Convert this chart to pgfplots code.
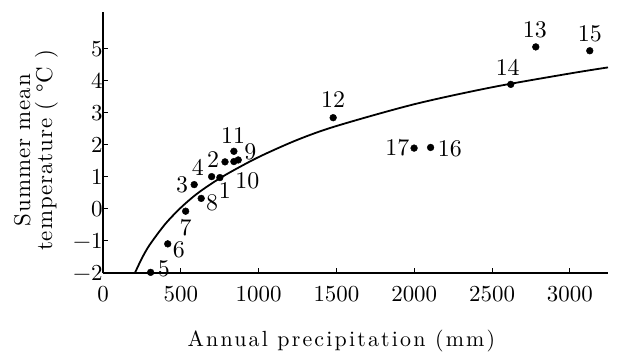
\documentclass[border=0pt]{standalone}
\usepackage{fontspec}
\setmainfont{lmroman10-regular.otf}
\usepackage{pgfplots}
\usepackage{pgfplotstable}
\pgfplotsset{compat=1.18}
\pgfplotstableread{
x y
205 -2.00
250 -1.54
300 -1.12
400 -0.47
500 0.04
600 0.46
700 0.80
800 1.10
1000 1.62
1250 2.16
1500 2.59
2000 3.27
2500 3.80
3000 4.23
3245 4.42
}\fit
\begin{document}
\begin{tikzpicture}
\begin{axis}[
  scale only axis, width=505bp, height=261bp,
  xmin=0, xmax=3245, ymin=-2, ymax=6.15,
  axis lines=left, axis line style={-, line width=1.1bp},
  tick align=inside, major tick length=5bp,
  tick style={line width=1bp, black},
  xtick={0,500,...,3000}, ytick={-2,-1,...,5},
  xticklabels={0,500,1000,1500,2000,2500,3000},
  yticklabels={−2,−1,0,1,2,3,4,5},
  tick label style={font=\fontsize{23}{23}\selectfont},
  xticklabel style={yshift=-10bp},
  yticklabel style={xshift=3bp},
  xlabel={Annual precipitation (mm)},
  xlabel style={at={(axis description cs:0.472,-0.26)}, anchor=center,
    font=\fontsize{22}{22}\selectfont\addfontfeature{LetterSpace=10}},
  ylabel={Summer mean\\temperature ( °C )},
  ylabel style={at={(axis description cs:-0.133,0.471)}, anchor=center, align=center,
    font=\fontsize{23}{22}\selectfont\addfontfeature{LetterSpace=4}},
  clip=false,
]
\addplot[black, line width=1.8bp, smooth] table[x=x, y=y] {\fit};
\addplot[only marks, mark=*, mark size=3.4bp, black,
  point meta=explicit symbolic,
  visualization depends on={value \thisrow{lx} \as \lx},
  visualization depends on={value \thisrow{ly} \as \ly},
  nodes near coords,
  every node near coord/.append style={font=\fontsize{24}{24}\selectfont, inner sep=0pt, anchor=center, xshift=\lx bp, yshift=\ly bp},
] table[meta=lab] {
x y lab lx ly
751 0.98 1 5 -13.4
784 1.47 2 -12 2.7
586 0.76 3 -12 0
698 1.01 4 -13.7 9.3
306 -1.98 5 13.3 3.3
416 -1.09 6 11 -5.7
531 -0.07 7 0 -16.4
631 0.33 8 11 -4
869 1.53 9 12 7.7
841 1.48 10 13.5 -19.4
841 1.80 11 -0.7 15.6
1479 2.85 12 0 18.4
2781 5.06 13 -1 16.7
2620 3.89 14 -3 17.4
3128 4.94 15 0 17.4
2105 1.92 16 19.3 -1.7
1999 1.90 17 -16.8 0
};
\end{axis}
\pgfresetboundingbox
\path[use as bounding box] ([shift={(-103bp,-87bp)}]current axis.south west) rectangle ++(627bp,360bp);
\end{tikzpicture}
\end{document}
